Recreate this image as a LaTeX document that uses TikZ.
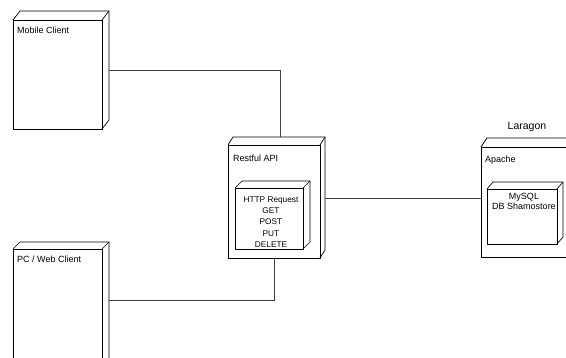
\documentclass[tikz,border=0pt]{standalone}
\usepackage{fontspec}
\setmainfont{Liberation Sans}
\begin{document}
\begin{tikzpicture}[x=1pt,y=-1pt,
  face/.style={draw=black, line width=0.7pt, rectangle, anchor=north west, inner sep=0pt, outer sep=0pt},
  edge3d/.style={draw=black, line width=0.7pt},
  conn/.style={draw=black!75, line width=0.8pt},
  lbl/.style={anchor=base west, inner sep=0pt, font=\fontsize{9}{11}\selectfont},
  inlbl/.style={align=center, inner sep=0pt, font=\fontsize{8.3}{11.2}\selectfont}]
\useasboundingbox (0,0) rectangle (566,358);
\clip (0,0) rectangle (566,358);
\fill[white] (0,0) rectangle (566,358);
% front faces
\node[face, minimum width=89pt, minimum height=109pt] (mob) at (13,20) {};
\node[face, minimum width=89pt, minimum height=120pt] (pc) at (13,249) {};
\node[face, minimum width=92pt, minimum height=113pt] (api) at (228,145) {};
\node[face, minimum width=68pt, minimum height=61pt] (http) at (235,188) {};
\node[face, minimum width=92pt, minimum height=110pt] (lar) at (481,147) {};
\node[face, minimum width=70pt, minimum height=55pt] (db) at (487,189) {};
% depth
\foreach \n/\dx/\dy in {mob/7/9, pc/7/7, api/5/8, http/7/7, lar/6/9, db/6/7} {
  \draw[edge3d] (\n.north west) -- ++(\dx,-\dy) -- ([shift={(\dx,-\dy)}]\n.north east)
     -- ([shift={(\dx,-\dy)}]\n.south east) -- (\n.south east);
  \draw[edge3d] (\n.north east) -- ++(\dx,-\dy);
}
% labels
\node[lbl] (tmob) at (17,34) {Mobile Client};
\node[lbl] (tpc) at (17,263) {PC / Web Client};
\node[lbl] (tapi) at (233,162) {Restful API};
\node[lbl] (tapache) at (485,163) {Apache};
\node[anchor=base, inner sep=0pt, font=\fontsize{10.5}{12}\selectfont] (tlar) at (527,130) {Laragon};
\node[inlbl, anchor=north] (thttp) at (271,196.5) {HTTP Request\\GET\\POST\\PUT\\DELETE};
\node[inlbl, anchor=north, font=\fontsize{9}{10.5}\selectfont] (tdb) at (524,193) {MySQL\\DB Shamostore};
% connectors
\coordinate (mobside) at ([shift={(7,-4.5)}]mob.east);
\coordinate (pcside) at ([shift={(7,-9)}]pc.east);
\coordinate (apitop) at ([shift={(6,-8)}]api.north);
\coordinate (apiside) at ([shift={(5,-3.5)}]api.east);
\draw[conn] (mobside) -| (apitop);
\draw[conn] (pcside) -| (api.south);
\draw[conn] (apiside) -- (apiside -| lar.west);
\end{tikzpicture}
\end{document}
